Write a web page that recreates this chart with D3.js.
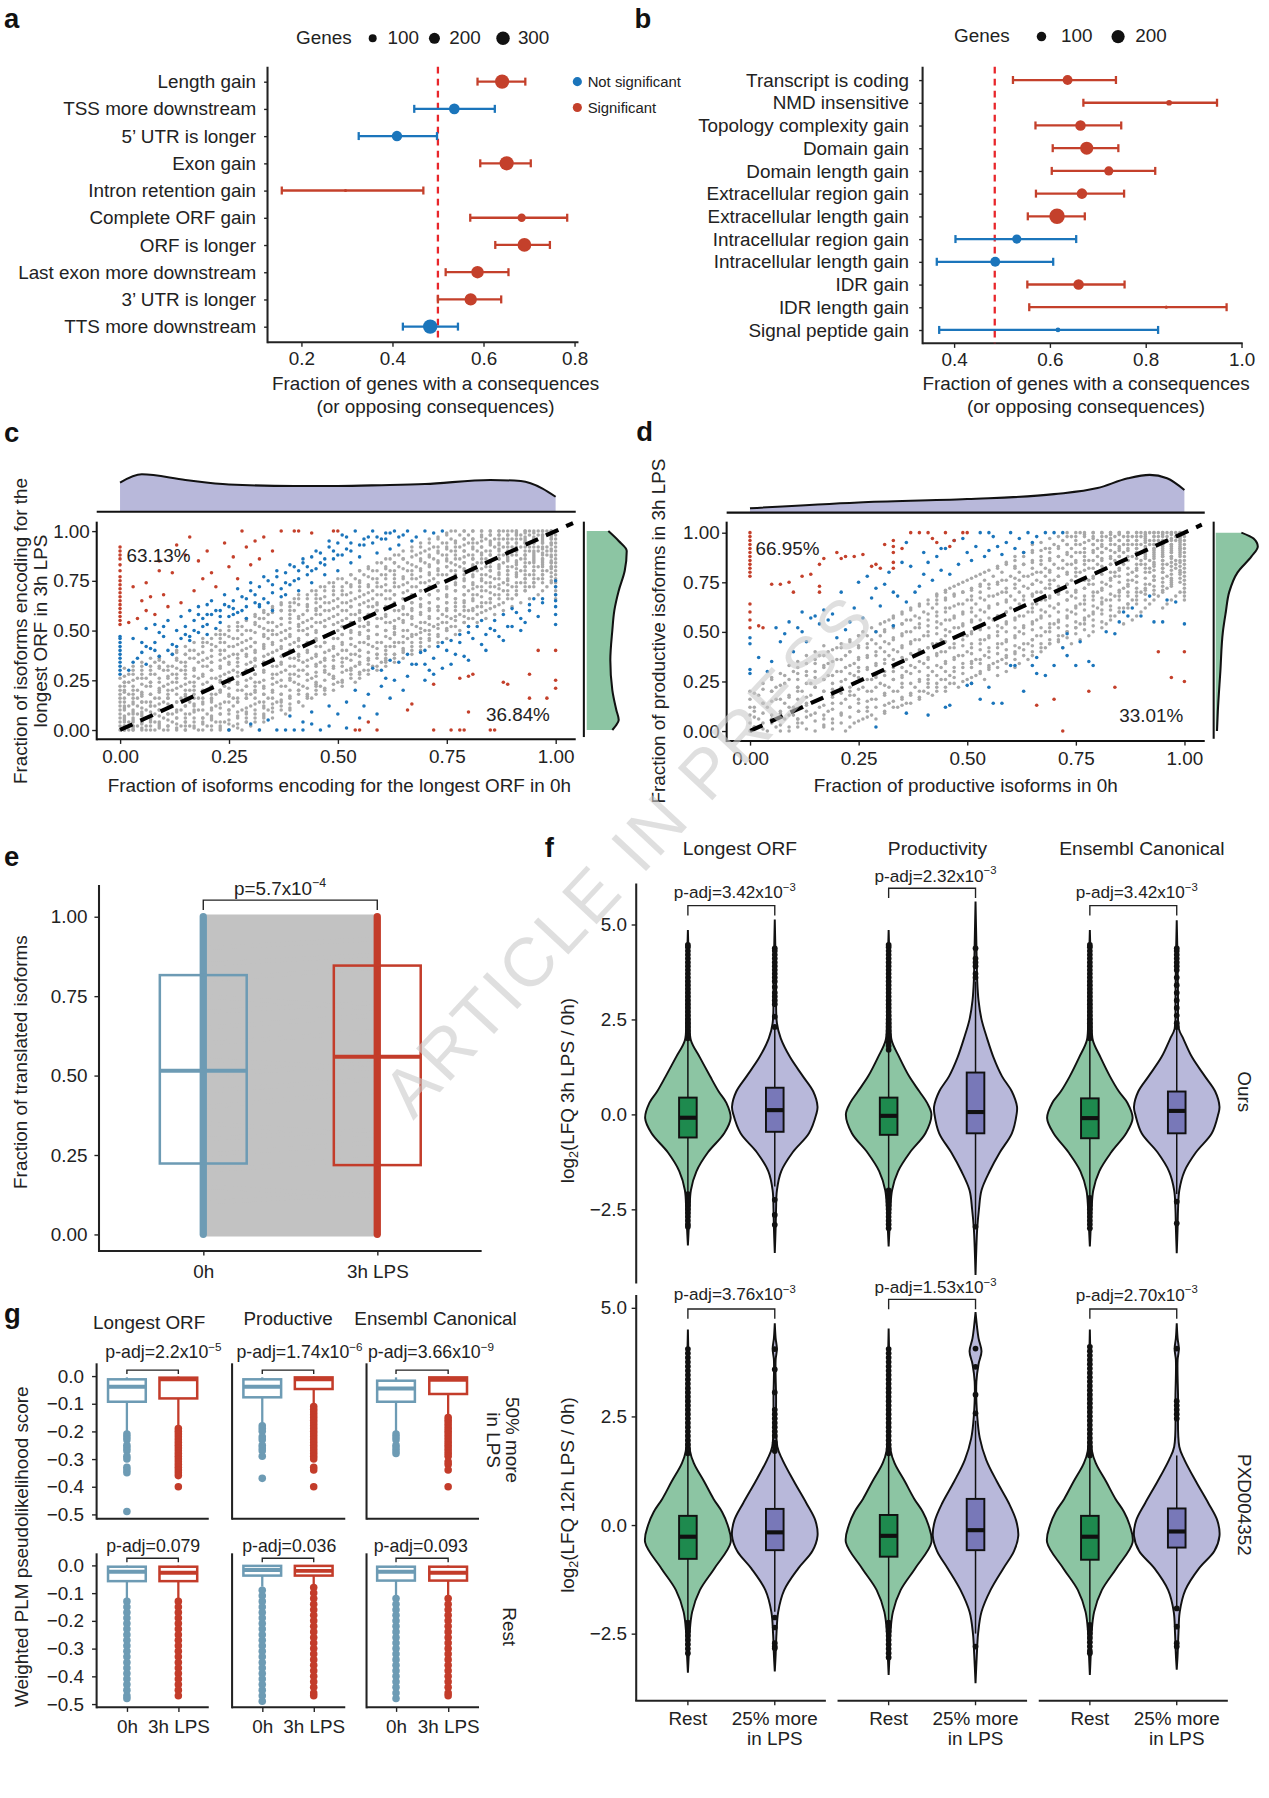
<!DOCTYPE html>
<html><head><meta charset="utf-8">
<script src="https://cdn.jsdelivr.net/npm/d3@7/dist/d3.min.js"></script>
<style>html,body{margin:0;padding:0;background:#fff}svg{display:block}</style>
</head><body>
<svg id="fig" width="1269" height="1798"></svg>
<script>
// ======================= DATA =======================
// ---- panel a ----
const aCats = ["Length gain","TSS more downstream","5\u2019 UTR is longer","Exon gain","Intron retention gain","Complete ORF gain","ORF is longer","Last exon more downstream","3\u2019 UTR is longer","TTS more downstream"];
const aFrac = [0.641,0.536,0.410,0.651,0.297,0.684,0.690,0.587,0.572,0.483];
const aLow  = [0.587,0.448,0.326,0.593,0.157,0.571,0.626,0.517,0.500,0.423];
const aHigh = [0.692,0.625,0.498,0.704,0.468,0.784,0.746,0.655,0.639,0.544];
const aGenes = [335,187,178,335,10,110,314,257,250,345];
const aSig = [1,0,0,1,1,1,1,1,1,0];
const aTicks = [0.2,0.4,0.6,0.8];
const aLegend = [100,200,300];
// ---- panel b ----
const bCats = ["Transcript is coding","NMD insensitive","Topology complexity gain","Domain gain","Domain length gain","Extracellular region gain","Extracellular length gain","Intracellular region gain","Intracellular length gain","IDR gain","IDR length gain","Signal peptide gain"];
const bFrac = [0.637,0.849,0.664,0.677,0.723,0.667,0.615,0.531,0.486,0.660,0.843,0.617];
const bLow  = [0.523,0.670,0.570,0.606,0.604,0.571,0.554,0.403,0.364,0.553,0.557,0.369];
const bHigh = [0.738,0.949,0.749,0.743,0.820,0.755,0.673,0.655,0.607,0.756,0.969,0.826];
const bGenes = [108,32,124,195,93,124,280,93,108,124,5,20];
const bSig = [1,1,1,1,1,1,1,0,0,1,1,0];
const bTicks = [0.4,0.6,0.8,1.0];
const bLegend = [100,200];
const sigLabels = ["Not significant","Significant"];
// ---- panel c (hundredths). rows "y: x x x", cols "x: y y y" ----
const cGrayRows = [
"0:0 1 2 3 5 6 8 10 13 15 18 21 25 28 32","2:0 1 3 4 6 9 11 14 16 20 23 26 30","4:0 2 3 5 7 8 12 15 17 22 24 29 33",
"6:0 1 3 6 7 10 13 15 19 21 27 31 35","8:0 2 4 5 8 11 12 16 20 23 29 33 38","10:0 1 3 6 9 10 14 18 21 25 28 34 39",
"12:0 2 4 7 8 12 15 17 22 26 30 33 37 42","14:0 1 5 6 10 13 16 19 24 27 32 36 41","16:0 3 4 8 11 14 18 21 26 29 34 39 44",
"18:0 2 5 7 11 15 17 22 25 30 33 37 43 47","20:0 1 4 9 12 16 19 23 28 31 35 41 45 49","22:0 3 6 10 14 17 21 24 29 33 38 42 46 51",
"24:1 2 7 9 12 16 20 23 27 32 36 40 45 50 54","26:0 4 6 11 13 18 22 25 30 35 39 44 49 55","28:2 5 8 12 15 19 24 28 31 36 40 43 48 53 57",
"30:3 7 10 14 17 21 26 29 33 38 42 47 52 56 59","32:5 9 12 15 20 23 27 31 36 40 45 49 54 58 61","34:8 10 14 18 21 25 30 33 37 42 46 51 55 60 63",
"36:9 13 16 20 24 27 31 35 40 44 47 52 57 61 65","38:12 15 18 23 26 29 34 38 41 45 50 54 59 63 67","40:13 16 21 24 28 31 36 39 43 48 52 55 61 65 69",
"42:15 19 22 26 30 33 37 41 46 49 54 58 62 67 71","44:17 20 24 28 31 35 40 43 47 51 56 60 64 69 73","46:19 23 26 30 34 38 41 45 50 53 57 62 66 71 75",
"48:22 24 28 33 36 39 43 48 51 55 59 63 68 73 77","50:23 27 30 34 38 42 45 50 53 57 61 66 70 75 78","52:25 28 32 36 41 44 47 51 56 59 63 68 72 76 80",
"54:27 31 34 39 42 46 50 53 57 62 65 70 74 79 82","56:29 32 37 41 44 48 52 55 60 64 67 71 76 80 84","58:31 34 39 42 46 50 54 57 61 66 69 74 78 82 86",
"60:33 37 40 45 48 52 55 59 64 67 71 75 80 84 88","62:35 39 43 46 50 53 58 61 65 69 73 77 82 86 90","64:37 40 45 48 52 56 59 63 67 71 75 79 84 88 92",
"66:40 43 46 50 54 58 62 65 69 73 77 81 85 90 94 100","68:41 45 49 52 56 60 63 67 71 75 79 82 86 91 96 100","70:44 47 51 55 58 62 66 69 73 77 80 84 88 93 97 100",
"72:46 49 53 57 60 64 68 71 75 79 82 86 90 94 98 100","74:48 52 55 59 63 66 70 73 77 81 84 88 92 95 99 100","76:50 54 58 61 65 68 72 76 79 83 86 89 93 96 100",
"78:53 56 60 63 67 71 74 77 81 84 87 91 94 97 100","80:55 58 62 66 69 73 76 79 82 85 89 92 95 98 100","82:57 61 64 68 71 75 78 81 84 87 90 93 96 99 100",
"84:60 63 66 70 73 76 79 82 85 88 91 94 97 99 100","86:62 65 69 72 75 78 81 84 87 89 92 95 97 100","88:64 68 71 74 77 80 83 85 88 90 93 95 98 100",
"90:67 70 73 76 79 82 84 87 89 91 94 96 98 100","92:69 72 75 78 81 83 86 88 90 92 94 96 98 100","94:71 74 77 80 82 85 87 89 91 93 95 97 99 100",
"96:73 76 79 81 84 86 88 90 92 93 95 97 99 100","98:75 78 80 83 85 87 89 91 92 94 96 97 99 100","100:76 79 81 83 85 87 88 90 91 93 94 96 97 98 99 100"];
const cGrayCols = [
"1:0 2 4 5 7 11 12 16 19 22 24 27 31","3:0 1 2 5 8 9 13 14 18 20 25 28 32","5:1 3 4 7 9 11 14 17 19 23 26 30 34",
"7:0 2 5 6 9 12 14 18 22 24 28 32 36","9:1 3 4 7 10 13 16 19 21 26 31 35 37","11:0 2 5 8 11 13 16 20 23 27 30 32",
"13:1 3 6 9 10 14 18 21 24 28 31 35 39","15:0 2 4 8 12 15 17 20 23 26 30 34 38","17:1 2 6 9 10 13 16 20 24 27 31 36 40",
"19:0 3 4 6 10 13 16 19 23 27 32 35 39 44","21:2 5 7 11 14 15 18 22 26 30 34 37 43 46","23:0 1 4 8 11 13 19 20 25 27 31 35 40 44 48",
"25:0 3 5 8 10 14 17 21 24 29 33 37 42 47 50","27:1 3 7 9 14 16 20 23 27 29 34 38 43 46 52","29:4 6 9 11 16 18 22 25 30 33 37 41 45 50 55",
"31:4 8 10 13 16 19 22 24 28 32 35 39 44 49 53 57","33:6 7 11 14 18 21 25 29 34 37 41 43 47 51 56 59","35:9 11 13 16 19 23 28 32 35 39 43 48 50 54 59 61",
"37:10 14 15 18 22 25 29 33 37 41 45 49 53 56 60 63","39:11 13 17 20 25 28 32 36 39 43 47 51 56 60 64","41:14 18 20 23 27 30 35 37 42 45 50 53 57 63 66",
"43:16 17 21 25 28 32 35 39 44 48 51 55 60 63 68","45:18 22 23 27 29 33 37 42 45 49 54 58 61 66 70","47:20 21 25 29 32 35 39 44 47 52 55 60 64 67 72",
"49:23 26 27 31 35 37 41 46 49 53 57 61 65 70 74","51:24 25 29 32 36 40 43 48 52 55 60 64 68 72 76","53:26 30 31 35 38 43 46 49 54 58 62 65 69 73 78",
"55:28 29 33 37 40 44 49 52 55 59 63 67 72 75 80","57:30 33 35 39 43 47 50 53 58 62 65 69 73 77 81","59:32 36 38 41 44 48 52 56 60 63 68 72 76 80 84",
"61:34 35 38 42 47 50 54 57 62 66 70 73 78 81 86","63:36 38 42 44 49 51 55 60 63 68 72 76 80 84 88","65:39 41 44 47 50 55 58 61 66 69 73 77 81 86 90",
"67:40 44 47 48 53 57 61 64 67 72 76 80 83 87 92","69:42 46 49 51 54 59 63 66 70 74 77 81 85 89 94","71:45 48 50 53 57 61 64 68 72 75 79 83 87 91 96",
"73:47 51 53 56 60 62 66 70 74 78 81 85 89 92 97","75:50 51 54 57 61 64 67 71 75 78 82 85 88 91 94 99","77:52 55 57 60 64 66 70 73 76 80 83 86 90 92 95 100",
"79:54 57 60 62 65 68 72 75 78 81 84 87 90 93 96 100","81:56 60 61 65 68 71 73 77 80 83 86 88 91 94 96 100","83:59 62 64 67 70 72 75 78 81 84 86 89 92 95 97 100",
"85:61 64 66 69 72 74 77 80 82 85 88 90 93 95 98 100","87:63 66 68 71 73 76 79 81 83 86 88 91 93 96 98 100","89:66 68 70 73 75 78 80 82 85 87 89 92 94 96 98 100",
"91:68 70 72 74 77 79 81 83 85 88 90 92 94 96 98 99 100","93:70 72 74 76 78 80 82 84 86 88 90 92 94 95 97 99 100","95:72 74 76 78 80 82 84 85 87 89 90 92 94 96 97 99 100",
"97:74 76 78 80 82 83 85 86 88 89 91 92 94 95 97 98 100","99:75 77 79 81 82 84 85 87 88 90 91 93 94 96 97 98 99 100"];
const cBlue = "0,28 0,30 0,32 0,34 0,36 0,38 0,40 0,42 0,44 0,46 0,47 2,30 3,34 4,36 5,39 6,33 7,41 8,44 9,37 10,47 11,40 12,43 13,50 14,46 15,52 16,45 17,55 18,49 19,56 20,53 21,58 22,51 23,60 24,63 25,57 26,65 27,59 28,67 29,62 30,70 31,64 32,72 33,66 34,75 35,69 36,77 37,71 38,79 39,73 40,82 41,76 42,84 43,78 44,87 45,81 46,89 47,83 48,92 49,86 50,94 51,88 52,97 53,90 54,100 56,93 58,100 60,96 62,91 63,100 65,98 67,95 70,100 72,99 74,100 3,46 5,44 6,51 8,53 9,49 11,55 12,38 14,57 16,60 18,62 20,48 21,65 23,54 24,68 26,61 27,71 29,56 30,74 32,63 33,77 35,60 36,80 38,68 39,83 41,70 42,86 44,74 45,90 47,78 48,95 50,80 51,98 53,84 55,87 57,97 59,89 61,99 64,93 66,100 68,97 15,48 17,50 19,52 20,58 22,60 23,57 25,62 26,58 28,60 29,66 31,68 32,62 34,64 35,73 37,67 38,74 40,75 41,80 43,82 44,80 46,84 47,86 49,90 50,88 52,91 53,94 55,93 56,96 58,94 59,97 61,96 62,99 64,97 6,42 8,40 10,52 13,42 16,47 18,58 20,63 25,0 32,0 36,0 38,0 40,0 42,0 46,0 30,3 34,5 39,7 42,4 44,9 48,12 50,8 52,14 55,6 57,18 60,22 62,16 63,25 66,27 67,33 68,33 70,33 71,30 72,36 75,40 76,45 78,44 80,49 82,52 84,48 86,55 88,58 90,61 92,56 94,63 95,66 97,66 100,53 100,58 100,65 100,72 100,75 58,31 61,26 64,34 69,39 73,42 77,38 81,46 85,51 89,52 91,59 93,54 96,57 54,20 56,12 59,8 65,20 48,2 44,3 52,1 70,25 74,31 79,37 83,43 87,47 60,30 62,35 66,38 70,40 74,44 78,48 80,52 83,55 86,50 90,52 94,60 97,64 100,62 100,68 72,28 76,33 80,35 84,40 88,45 92,50";
const cRed = "0,53 0,55 0,57 0,59 0,61 0,63 0,65 0,67 0,69 0,71 0,73 0,75 0,77 0,80 0,83 0,86 0,88 0,90 0,92 2,54 4,56 5,65 6,74 7,67 8,58 9,80 10,68 11,62 12,79 13,93 14,64 15,88 16,97 17,70 18,85 19,76 20,90 22,72 24,94 25,82 26,87 28,100 29,92 30,83 31,95 32,86 33,97 35,90 37,100 40,100 41,100 44,99 49,100 50,100 3,72 9,85 21,79 27,76 6,60 54,0 55,0 59,0 72,0 76,0 78,0 79,0 85,0 86,0 57,4 66,10 67,13 80,9 72,23 78,26 80,27 81,28 88,24 89,23 94,16 98,16 94,28 96,40 100,40 100,25 100,21";
const cTopDens = [[0,0.78],[0.05,1],[0.15,0.85],[0.25,0.73],[0.4,0.69],[0.5,0.69],[0.6,0.71],[0.7,0.74],[0.85,0.85],[0.92,0.82],[0.97,0.62],[1,0.4]];
const cRightDens = [[0,0.64],[0.02,0.72],[0.05,0.8],[0.1,0.74],[0.2,0.64],[0.35,0.59],[0.5,0.64],[0.6,0.69],[0.7,0.8],[0.8,0.95],[0.9,1],[0.95,0.8],[1,0.54]];
const cPct = ["63.13%","36.84%"];
// ---- panel d ----
const dGrayRows = [
"0:0 4 9 15 22","2:1 6 11 17","4:0 3 12 19 24","6:2 8 11 17 26","8:0 5 10 14 21 28","10:1 7 13 18 25 31",
"12:0 4 10 16 23 27 34","14:3 8 13 19 25 32 36","16:0 6 11 16 22 28 35 39","18:2 9 14 19 24 31 37 42",
"20:0 5 12 17 23 28 34 40 45","22:6 11 15 21 26 32 38 43 48","24:3 8 14 19 24 30 35 41 46 51","26:5 11 17 22 28 33 39 44 50 54",
"28:8 13 18 24 29 35 41 46 52 57","30:10 15 20 25 31 36 42 47 53 59","32:11 17 22 27 33 38 44 49 55 61","34:13 18 24 29 34 40 45 51 56 62",
"36:15 20 25 31 36 41 47 52 58 64","38:16 22 27 32 38 43 48 54 59 65","40:18 23 29 34 39 44 50 55 61 67","42:20 25 30 35 41 46 51 57 62 68 72",
"44:21 27 32 37 42 47 53 58 64 69 74","46:23 28 33 38 44 49 54 59 65 71 76","48:25 30 35 40 45 50 55 61 66 72 78","50:26 31 36 41 46 51 57 62 68 73 79",
"52:28 33 38 43 48 53 58 63 69 75 81","54:30 35 39 44 49 54 59 65 70 76 82 86","56:32 36 41 46 51 56 61 66 71 77 83 88","58:33 38 43 47 52 57 62 67 73 78 84 89",
"60:35 40 45 49 54 59 64 68 74 79 85 90","62:37 42 46 51 55 60 65 70 75 80 86 91 95","64:39 43 48 52 57 62 66 71 76 81 87 92 96",
"66:41 45 50 54 59 63 68 73 77 82 88 93 97 100","68:43 47 51 56 60 65 69 74 79 84 89 94 98 100","70:45 49 53 58 62 66 71 75 80 85 90 95 99 100",
"72:46 51 55 59 64 68 72 77 81 86 91 96 100","74:48 53 57 61 65 69 73 78 82 87 92 97 100","76:50 54 58 62 66 70 74 78 83 88 93 97 100",
"78:52 56 60 64 68 71 75 79 84 89 93 96 100","80:54 58 62 66 69 73 76 80 84 88 92 95 99 100","82:57 61 65 68 72 75 78 82 85 89 92 95 98 100",
"84:59 63 67 70 74 77 80 83 86 90 93 96 98 100","86:61 65 69 72 75 78 81 84 87 90 92 95 98 100","88:63 67 71 74 77 80 83 85 88 91 93 95 97 100",
"90:65 69 73 76 79 81 84 86 89 91 93 95 97 99 100","92:68 71 74 77 80 82 85 87 89 91 93 95 97 99 100","94:70 73 76 79 81 84 86 88 90 92 93 95 97 99 100",
"96:72 75 78 80 83 85 87 89 91 92 94 96 98 99 100","98:74 77 79 82 84 86 88 90 91 93 94 96 98 99 100","100:76 79 81 83 85 87 89 90 92 93 94 95 96 97 98 99 100"];
const dGrayCols = [
"1:2 7 12 19","3:1 9 14 21","5:4 6 15 20 27","7:0 3 9 16 23 29","9:2 8 12 17 26 33","11:4 6 11 20 22 29 35","13:1 7 13 17 24 30 38",
"15:5 9 15 22 27 34 40","17:3 8 13 20 26 33 38 43","19:1 6 11 17 21 28 35 41","21:4 9 14 19 25 30 36 42","23:2 7 12 18 22 29 33 40 45",
"25:5 10 16 21 27 32 37 43 48","27:7 10 15 20 26 31 37 42 48","29:6 12 16 22 27 33 38 44 50","31:9 13 19 23 28 34 40 45 51 55",
"33:12 15 20 26 30 36 41 47 53 57","35:13 17 22 27 32 37 43 49 54 59","37:14 19 24 29 33 39 45 50 56 61","39:17 20 25 30 35 41 46 52 57 63",
"41:19 22 26 32 37 42 48 53 59 64","43:20 24 28 33 39 44 49 55 60 66 69","45:22 26 30 35 40 45 51 56 62 67 71","47:24 27 32 37 42 47 52 57 63 69 73",
"49:25 29 34 38 43 48 53 59 64 70 75","51:27 32 35 39 44 49 55 60 66 71 77","53:29 34 36 41 46 51 56 61 67 73 79","55:31 33 37 42 47 52 57 63 68 74 81",
"57:32 35 39 44 48 53 58 64 69 75 83","59:34 37 41 45 50 55 60 65 70 76 85","61:36 39 43 47 52 57 61 66 72 77 83 88","63:38 41 44 49 53 58 63 68 73 78 84 90",
"65:40 43 46 51 55 60 64 69 74 79 85 91 94","67:42 44 48 52 57 61 66 70 75 80 86 91 95","69:44 46 50 54 58 63 67 72 76 81 87 92 97","71:45 48 52 55 60 64 69 73 78 82 88 93 98",
"73:47 50 53 57 61 66 70 74 79 84 89 94 98 100","75:49 52 55 59 63 67 71 75 80 85 90 94 98 100","77:51 54 57 61 64 68 72 76 81 86 90 95 99 100","79:53 56 59 63 66 70 74 77 82 86 91 94 97 100",
"81:55 59 61 65 67 71 75 79 83 87 90 93 96 98 100","83:58 61 63 66 69 73 77 80 84 87 91 94 97 99 100","85:60 62 66 68 71 75 78 81 85 88 91 93 96 99 100","87:62 64 68 70 73 76 79 82 86 88 91 94 96 98 100",
"89:64 66 70 72 75 78 81 84 87 89 92 94 96 98 100","91:66 69 71 74 77 80 82 84 87 89 91 93 95 97 99 100","93:69 71 73 76 78 81 83 85 87 89 91 92 94 96 98 100","95:71 73 75 77 80 82 84 86 88 89 91 93 94 96 98 99 100",
"97:73 75 77 79 81 83 85 87 88 90 91 93 94 96 97 99 100","99:75 77 79 81 83 85 86 88 89 91 92 93 95 96 97 98 99 100"];
const dBlue = "0,29 0,31 0,44 0,47 2,37 4,30 5,35 6,52 7,45 8,49 9,55 10,40 11,52 12,60 13,45 14,57 15,58 16,54 17,61 18,56 19,59 21,70 22,51 23,55 24,62 25,75 26,57 27,78 28,67 29,72 30,63 31,74 32,80 33,70 34,68 35,85 36,65 37,83 38,70 39,73 40,79 41,85 42,76 43,88 44,81 45,92 46,79 47,96 48,84 50,90 51,86 52,93 53,100 54,88 55,91 56,98 57,93 58,89 59,95 60,100 61,92 62,97 63,90 64,100 65,95 66,98 68,100 70,100 72,100 36,95 40,90 44,92 49,97 55,100 12,50 20,47 29,50 33,53 29,2 36,9 41,8 45,12 46,13 50,23 51,24 55,22 56,14 58,14 60,33 61,33 65,33 66,29 66,37 70,33 72,42 73,38 75,33 76,45 79,33 78,35 85,55 86,60 87,58 88,62 90,58 92,68 93,55 95,55 96,66 98,65 100,54 73,49 82,50 84,49 68,28 63,20 53,16";
const dRed = "0,52 0,56 0,60 0,64 0,78 0,80 0,82 0,84 0,86 0,88 0,90 0,92 0,94 0,96 0,98 0,100 2,53 3,52 5,74 7,74 9,75 10,70 12,78 14,79 16,73 16,70 16,84 17,87 20,90 21,87 22,88 24,88 26,89 28,83 29,84 30,82 31,94 33,96 33,85 33,82 33,90 33,93 35,92 37,100 39,100 41,100 42,97 45,100 49,100 50,100 47,96 43,95 46,93 72,0 66,13 70,16 78,20 84,22 94,40 97,27 100,40 100,25";
const dTopDens = [[0,0.115],[0.25,0.27],[0.5,0.36],[0.7,0.49],[0.8,0.65],[0.87,0.91],[0.92,1],[0.96,0.91],[1,0.6]];
const dRightDens = [[0,0.03],[0.1,0.05],[0.3,0.11],[0.5,0.17],[0.6,0.24],[0.7,0.32],[0.8,0.52],[0.88,0.85],[0.93,1],[0.97,0.9],[1,0.61]];
const dPct = ["66.95%","33.01%"];
const scatterTicks = [0,0.25,0.5,0.75,1];
// ---- panel e ----
const eConds = ["0h","3h LPS"];
const eBox = [[0.223,0.515,0.816],[0.218,0.559,0.846]]; // q1, median, q3
const ePairs = "0,0 1,1 2,2 3,3 4,4 5,5 6,6 7,7 8,8 9,9 10,10 11,11 12,12 13,13 14,14 15,15 16,16 17,17 18,18 19,19 20,20 21,21 22,22 23,23 24,24 25,25 26,26 27,27 28,28 29,29 30,30 31,31 32,32 33,33 34,34 35,35 36,36 37,37 38,38 39,39 40,40 41,41 42,42 43,43 44,44 45,45 46,46 47,47 48,48 49,49 50,50 51,51 52,52 53,53 54,54 55,55 56,56 57,57 58,58 59,59 60,60 61,61 62,62 63,63 64,64 65,65 66,66 67,67 68,68 69,69 70,70 71,71 72,72 73,73 74,74 75,75 76,76 77,77 78,78 79,79 80,80 81,81 82,82 83,83 84,84 85,85 86,86 87,87 88,88 89,89 90,90 91,91 92,92 93,93 94,94 95,95 96,96 97,97 98,98 99,99 100,100 10,13 20,24 30,33 40,45 50,54 60,64 70,73 80,84 15,12 35,31 55,52 75,71 90,93 25,29 45,49 65,69 85,88";
const eTicks = [0,0.25,0.5,0.75,1];
// ---- panel f ----
const fCols = ["Longest ORF","Productivity","Ensembl Canonical"];
const fGroups = ["Rest","25% more|in LPS"];
const fRowLabels = ["Ours","PXD004352"];
const fTicks = [-2.5,0,2.5,5];
const fPadj = [["3.42","3.76"],["2.32","1.53"],["3.42","2.70"]];
const fViolOurs = [
[[-3.45,0],[-3,0.02],[-2.5,0.04],[-2,0.07],[-1.5,0.2],[-1,0.47],[-0.5,0.85],[-0.1,1],[0.3,0.9],[0.6,0.72],[1,0.52],[1.5,0.28],[1.95,0.07],[2.5,0.04],[3.5,0.03],[4.85,0]],
[[-3.65,0],[-3,0.02],[-2.5,0.03],[-2,0.05],[-1.5,0.15],[-1,0.42],[-0.5,0.8],[0,0.97],[0.2,1],[0.6,0.9],[1,0.66],[1.5,0.36],[2,0.14],[2.4,0.05],[3.5,0.03],[5.13,0]],
[[-3.48,0],[-3,0.02],[-2.5,0.04],[-2,0.08],[-1.5,0.22],[-1,0.5],[-0.5,0.86],[0,1],[0.3,0.9],[0.6,0.72],[1,0.48],[1.5,0.25],[1.95,0.07],[2.5,0.04],[3.5,0.03],[4.85,0]],
[[-4.23,0],[-3.5,0.02],[-3,0.04],[-2.5,0.08],[-2,0.14],[-1.5,0.33],[-1,0.57],[-0.5,0.85],[0,0.96],[0.2,0.97],[0.6,0.85],[1,0.62],[1.5,0.42],[2,0.27],[2.5,0.14],[3,0.07],[3.5,0.04],[4.5,0.02],[5.6,0]],
[[-3.48,0],[-3,0.02],[-2.5,0.04],[-2,0.08],[-1.5,0.22],[-1,0.5],[-0.5,0.85],[-0.1,1],[0.3,0.88],[0.6,0.68],[1,0.47],[1.5,0.25],[1.95,0.07],[2.5,0.04],[3.5,0.03],[4.85,0]],
[[-3.66,0],[-3,0.02],[-2.5,0.03],[-2,0.06],[-1.5,0.18],[-1,0.45],[-0.5,0.82],[0,0.97],[0.2,1],[0.6,0.9],[1,0.66],[1.5,0.36],[2,0.15],[2.25,0.05],[3,0.03],[4,0.02],[5.11,0]]];
const fViolPxd = [
[[-3.4,0],[-3,0.02],[-2.5,0.04],[-2,0.1],[-1.5,0.28],[-1,0.62],[-0.4,1],[0,0.93],[0.3,0.8],[0.6,0.6],[1,0.38],[1.4,0.15],[1.7,0.05],[3,0.03],[4.5,0]],
[[-3.37,0],[-3,0.02],[-2.5,0.04],[-2,0.08],[-1.5,0.22],[-1,0.55],[-0.6,0.88],[-0.25,1],[0.1,0.95],[0.5,0.74],[1,0.45],[1.5,0.18],[1.8,0.06],[3,0.03],[3.8,0.02],[4.05,0.05],[4.3,0.02],[4.64,0]],
[[-3.45,0],[-3,0.02],[-2.5,0.04],[-2,0.1],[-1.5,0.28],[-1,0.62],[-0.4,1],[0,0.93],[0.3,0.8],[0.6,0.6],[1,0.38],[1.4,0.15],[1.7,0.05],[3,0.03],[4.52,0]],
[[-3.64,0],[-3,0.03],[-2.5,0.06],[-2,0.14],[-1.5,0.35],[-1,0.65],[-0.6,0.9],[-0.25,1],[0.1,0.95],[0.5,0.78],[1,0.5],[1.5,0.25],[2,0.1],[2.5,0.04],[3.3,0.02],[3.7,0.07],[4.0,0.14],[4.3,0.07],[4.9,0]],
[[-3.45,0],[-3,0.02],[-2.5,0.04],[-2,0.1],[-1.5,0.28],[-1,0.62],[-0.4,1],[0,0.93],[0.3,0.8],[0.6,0.6],[1,0.38],[1.4,0.15],[1.7,0.05],[3,0.03],[4.5,0]],
[[-3.33,0],[-3,0.02],[-2.5,0.04],[-2,0.07],[-1.5,0.2],[-1,0.52],[-0.6,0.88],[-0.25,1],[0.1,0.95],[0.5,0.74],[1,0.45],[1.5,0.18],[1.8,0.06],[3,0.03],[3.8,0.02],[4.05,0.05],[4.3,0.02],[4.64,0]]];
// box stats: q1, median, q3, lower whisker, upper whisker
const fBoxOurs = [[-0.61,-0.09,0.44,-2.1,2.0],[-0.46,0.11,0.70,-1.9,2.3],[-0.54,-0.04,0.44,-2.0,1.65],[-0.5,0.06,1.1,-2.9,3.5],[-0.63,-0.1,0.42,-2.15,2.0],[-0.5,0.09,0.6,-2.1,2.25]];
const fBoxPxd = [[-0.78,-0.27,0.21,-2.2,1.65],[-0.58,-0.17,0.37,-2.0,1.7],[-0.73,-0.25,0.23,-2.2,1.65],[-0.58,-0.12,0.6,-2.5,2.4],[-0.8,-0.27,0.21,-2.25,1.6],[-0.52,-0.15,0.38,-1.9,1.6]];
const fOutOurs = [
"2.0 2.1 2.2 2.3 2.4 2.5 2.6 2.7 2.8 2.9 3.0 3.1 3.2 3.3 3.4 3.5 3.6 3.7 3.8 3.9 4.0 4.1 4.2 4.3 4.4 4.46 -2.1 -2.2 -2.3 -2.4 -2.5 -2.6 -2.7 -2.8 -2.9 -2.96",
"2.3 2.57 2.9 3.0 3.1 3.2 3.35 3.5 3.6 3.7 3.8 3.9 4.0 4.1 4.2 4.3 4.37 -2.25 -2.65 -2.91",
"1.7 1.8 1.9 2.0 2.1 2.2 2.3 2.4 2.5 2.6 2.7 2.8 2.9 3.0 3.1 3.2 3.3 3.4 3.5 3.6 3.7 3.8 3.9 4.0 4.1 4.2 4.3 4.4 4.46 -2.0 -2.1 -2.2 -2.3 -2.4 -2.5 -2.6 -2.7 -2.8 -2.9 -3.0",
"3.6 3.7 3.9 4.0 4.1 4.37 -2.96",
"2.0 2.1 2.2 2.3 2.4 2.5 2.6 2.7 2.8 2.9 3.0 3.1 3.2 3.3 3.4 3.5 3.6 3.7 3.8 3.9 4.0 4.1 4.2 4.3 4.4 4.46 -2.2 -2.3 -2.4 -2.5 -2.6 -2.7 -2.8 -2.9 -3.0",
"2.3 2.4 2.6 2.8 3.0 3.2 3.4 3.6 3.8 3.9 4.0 4.1 4.2 4.3 4.37 -2.3 -2.87"];
const fOutPxd = [
"1.65 1.75 1.85 1.95 2.05 2.15 2.25 2.35 2.45 2.55 2.65 2.75 2.85 2.95 3.05 3.15 3.25 3.35 3.45 3.55 3.65 3.75 3.85 3.95 4.05 -2.25 -2.35 -2.45 -2.55 -2.65 -2.75 -2.85 -2.95",
"1.7 1.8 1.9 2.05 2.15 2.25 2.35 2.45 2.55 2.65 3.05 3.58 4.05 -2.13 -2.36 -2.72 -2.8 -2.84",
"1.65 1.75 1.85 1.95 2.05 2.15 2.25 2.35 2.45 2.55 2.65 2.75 2.85 2.95 3.05 3.15 3.25 3.35 3.45 3.55 3.65 3.75 3.85 3.95 4.05 -2.25 -2.35 -2.45 -2.55 -2.65 -2.75 -2.85 -2.95 -3.05",
"2.57 3.0 3.64 4.06 -2.8",
"1.6 1.7 1.8 1.9 2.0 2.1 2.2 2.3 2.4 2.5 2.6 2.7 2.8 2.9 3.0 3.1 3.2 3.3 3.4 3.5 3.6 3.7 3.8 3.9 4.0 4.1 -2.3 -2.4 -2.5 -2.6 -2.7 -2.8 -2.9 -2.95",
"2.45 2.55 2.65 2.75 2.85 4.06 -1.92 -2.34 -2.72 -2.8"];
// ---- panel g ----
const gCols = ["Longest ORF","Productive","Ensembl Canonical"];
const gConds = ["0h","3h LPS"];
const gRowLabels = [["50% more","in LPS"],["Rest"]];
const gTicks = [-0.5,-0.4,-0.3,-0.2,-0.1,0];
const gPadjTop = [["2.2","\u22125"],["1.74","\u22126"],["3.66","\u22129"]];
const gPadjBottom = ["0.079","0.036","0.093"];
// [q1, median, q3, lower whisker, upper whisker], order: LORF 0h, LORF 3h, Prod 0h, Prod 3h, Ens 0h, Ens 3h
const gBoxTop = [[-0.093,-0.039,-0.012,-0.20,-0.005],[-0.081,-0.012,-0.006,-0.19,-0.002],[-0.077,-0.039,-0.012,-0.171,-0.005],[-0.047,-0.012,-0.005,-0.11,-0.002],[-0.093,-0.045,-0.017,-0.20,-0.005],[-0.065,-0.014,-0.005,-0.147,-0.002]];
const gBoxBottom = [[-0.057,-0.023,-0.005,-0.125,-0.001],[-0.057,-0.027,-0.005,-0.125,-0.001],[-0.037,-0.017,-0.002,-0.077,0],[-0.037,-0.02,-0.002,-0.075,0],[-0.055,-0.023,-0.005,-0.119,-0.001],[-0.055,-0.027,-0.005,-0.119,-0.001]];
const gOutTop = [
"-21 -22 -23 -25 -26 -27 -29 -30 -33 -34 -35 -49",
"-19 -20 -21 -22 -23 -24 -25 -26 -27 -28 -29 -30 -31 -32 -33 -34 -35 -36 -40",
"-18 -19 -20 -22 -23 -25 -26 -27 -29 -37",
"-11 -12 -13 -14 -15 -16 -17 -18 -19 -20 -21 -22 -23 -24 -25 -26 -27 -28 -29 -30 -33 -34 -40",
"-21 -22 -23 -25 -26 -27 -28",
"-15 -16 -17 -18 -19 -20 -21 -22 -23 -24 -25 -26 -27 -28 -29 -31 -32 -34 -40"];
const gOutBottom = [
"-13 -15 -17 -19 -21 -23 -25 -27 -29 -31 -33 -35 -37 -39 -41 -43 -45 -47 -48",
"-13 -15 -17 -19 -21 -23 -25 -27 -29 -31 -33 -35 -37 -39 -41 -43 -45 -47",
"-9 -11 -13 -15 -17 -19 -21 -23 -25 -27 -29 -31 -33 -35 -37 -39 -41 -43 -45 -47 -49",
"-8 -10 -12 -14 -16 -18 -20 -22 -24 -26 -28 -30 -32 -34 -36 -38 -40 -42 -44 -46 -47",
"-12 -14 -16 -18 -20 -22 -24 -26 -28 -30 -32 -34 -36 -38 -40 -42 -44 -46 -48",
"-12 -14 -16 -18 -20 -22 -24 -26 -28 -30 -32 -34 -36 -38 -40 -42 -44 -46 -47"];
const watermark = "ARTICLE IN PRESS";

// ======================= STYLE =======================
const FONT = "'Liberation Sans', Arial, Helvetica, sans-serif";
const FS = 16.5, INK = "#222";
const RED = "#c4402b", BLUE = "#1b75bb", GRAY = "#a8a8a8";
const LAV = "#b8b8da", GREEN = "#8cc5a3", BOXGREEN = "#1e8a4e", BOXPURP = "#7878b8";
const EBLUE = "#6d9bb4", ERED = "#c33c2a";
const S = 1269 / 1110;

const svg = d3.select("#fig").attr("font-family", FONT);
const root = svg.append("g").attr("transform", `scale(${S})`);

function txt(g, x, y, s, o = {}) {
  const t = g.append("text").attr("x", x).attr("y", y).text(s)
    .attr("font-size", o.size || FS).attr("fill", o.fill || INK)
    .attr("text-anchor", o.anchor || "start");
  if (o.weight) t.attr("font-weight", o.weight);
  if (o.rotate != null) t.attr("transform", `rotate(${o.rotate},${x},${y})`);
  return t;
}
function ln(g, x1, y1, x2, y2, w = 1.5, c = INK, dash) {
  const l = g.append("line").attr("x1", x1).attr("y1", y1).attr("x2", x2).attr("y2", y2)
    .attr("stroke", c).attr("stroke-width", w);
  if (dash) l.attr("stroke-dasharray", dash);
  return l;
}
function axisG(parent, axis, tx, ty, size) {
  const g = parent.append("g").attr("transform", `translate(${tx},${ty})`).call(axis);
  g.attr("font-family", FONT).attr("font-size", size || FS);
  g.select(".domain").remove();
  g.selectAll(".tick line").attr("stroke", INK).attr("stroke-width", 1.2);
  g.selectAll(".tick text").attr("fill", INK);
  return g;
}
function supText(g, x, y, base, exp, size, anchor) {
  const t = g.append("text").attr("x", x).attr("y", y).attr("font-size", size)
    .attr("text-anchor", anchor || "middle").attr("fill", INK);
  t.append("tspan").text(base);
  t.append("tspan").attr("dy", -size * 0.42).attr("font-size", size * 0.66).text(exp);
  return t;
}
function bracket(g, x1, x2, y, drop) {
  g.append("path").attr("d", `M${x1},${y + drop}V${y}H${x2}V${y + drop}`)
    .attr("fill", "none").attr("stroke", INK).attr("stroke-width", 1.2);
}
const minus = s => s.replace("-", "\u2212");
const parseRows = rows => rows.flatMap(r => { const [y, xs] = r.split(":"); return xs.trim().split(/\s+/).map(x => [+x / 100, +y / 100]); });
const parseCols = cols => cols.flatMap(r => { const [x, ys] = r.split(":"); return ys.trim().split(/\s+/).map(y => [+x / 100, +y / 100]); });
const parsePairs = s => s.trim().split(/\s+/).map(p => { const [a, b] = p.split(","); return [+a / 100, +b / 100]; });
const parseNums = (s, k = 1) => s.trim().split(/\s+/).map(v => +v / k);

// panel letters
[["a",3.6,24.8],["b",555,24.8],["c",3.6,387],["d",556.5,386],["e",3.5,757.5],["f",476.5,749.4],["g",3.6,1157.6]]
  .forEach(([l, x, y]) => txt(root, x, y, l, { size: 24, weight: "bold", fill: "#111" }));

// ======================= FOREST (a, b) =======================
function drawForest(o) {
  const g = root.append("g");
  const x = d3.scaleLinear().domain(o.xDom).range(o.xRng);
  const y = d3.scalePoint().domain(o.cats).range(o.yRng);
  const area = d3.scaleLinear().domain(o.nDom).range([o.rRng[0] ** 2, o.rRng[1] ** 2]);
  const r = n => Math.sqrt(Math.max(0.5, area(n)));
  axisG(g, d3.axisBottom(x).tickValues(o.ticks).tickFormat(d3.format(".1f")).tickSize(4).tickPadding(4), 0, o.axY);
  axisG(g, d3.axisLeft(y).tickSize(3).tickPadding(o.pad), o.axX, 0);
  ln(g, o.axX, o.axTop, o.axX, o.axY + 0.8, 1.8);
  ln(g, o.axX, o.axY, o.axR, o.axY, 1.8);
  ln(g, x(o.ref), o.axTop, x(o.ref), o.axY, 2, "#e8262b", "6,4.5");
  o.cats.forEach((c, i) => {
    const col = o.sig[i] ? RED : BLUE, yy = y(c);
    ln(g, x(o.lo[i]), yy, x(o.hi[i]), yy, 2, col);
    ln(g, x(o.lo[i]), yy - 3.5, x(o.lo[i]), yy + 3.5, 2, col);
    ln(g, x(o.hi[i]), yy - 3.5, x(o.hi[i]), yy + 3.5, 2, col);
  });
  g.selectAll("circle.pt").data(o.cats).join("circle").attr("class", "pt")
    .attr("cx", (c, i) => x(o.frac[i])).attr("cy", c => y(c))
    .attr("r", (c, i) => r(o.genes[i])).attr("fill", (c, i) => o.sig[i] ? RED : BLUE);
  txt(g, o.titleX, 341, "Fraction of genes with a consequences", { anchor: "middle" });
  txt(g, o.titleX, 361, "(or opposing consequences)", { anchor: "middle" });
  txt(g, o.legX, o.legY, "Genes");
  o.legN.forEach((n, i) => {
    g.append("circle").attr("cx", o.legDot[i]).attr("cy", o.legY - 5).attr("r", r(n)).attr("fill", "#111");
    txt(g, o.legLab[i], o.legY, String(n));
  });
  return g;
}
const gA = drawForest({ cats: aCats, frac: aFrac, lo: aLow, hi: aHigh, genes: aGenes, sig: aSig, ticks: aTicks,
  xDom: [0.2, 0.8], xRng: [263.6, 502.5], yRng: [71.4, 285.7], nDom: [10, 345], rRng: [1.4, 6.3],
  axX: 234, axY: 299.4, axTop: 58.3, axR: 506, pad: 7, ref: 0.5, titleX: 381,
  legX: 259, legY: 38.5, legN: aLegend, legDot: [326, 380, 440], legLab: [339, 393, 453] });
[BLUE, RED].forEach((c, i) => {
  gA.append("circle").attr("cx", 505).attr("cy", 71.4 + i * 22.6).attr("r", 4).attr("fill", c);
  txt(gA, 514, 75.9 + i * 22.6, sigLabels[i], { size: 13 });
});
drawForest({ cats: bCats, frac: bFrac, lo: bLow, hi: bHigh, genes: bGenes, sig: bSig, ticks: bTicks,
  xDom: [0.4, 1.0], xRng: [834.5, 1085.9], yRng: [70, 288.6], nDom: [5, 280], rRng: [1.4, 6.8],
  axX: 807, axY: 300.3, axTop: 58.3, axR: 1087, pad: 9, ref: 0.485, titleX: 950,
  legX: 834.5, legY: 37, legN: bLegend, legDot: [911, 978], legLab: [928, 993] });

// ======================= SCATTER (c, d) =======================
function drawScatter(o) {
  const g = root.append("g");
  const x = d3.scaleLinear().domain([0, 1]).range(o.xR);
  const y = d3.scaleLinear().domain([0, 1]).range(o.yR);
  const th = d3.scaleLinear().domain([0, 1]).range([0, o.topMax]);
  const tArea = d3.area().curve(d3.curveMonotoneX).x(d => x(d[0])).y0(o.topBase).y1(d => o.topBase - th(d[1]));
  g.append("path").datum(o.topDens).attr("d", tArea).attr("fill", LAV);
  g.append("path").datum(o.topDens).attr("d", tArea.lineY1()).attr("fill", "none").attr("stroke", "#111").attr("stroke-width", 1.8);
  ln(g, o.axL, o.topBase, o.axR, o.topBase, 1.8, "#111");
  const rw = d3.scaleLinear().domain([0, 1]).range([0, o.rightMax]);
  const rd = o.rightDens.slice().reverse();
  const rArea = d3.area().curve(d3.curveMonotoneY).y(d => y(d[0])).x0(o.rightBase).x1(d => o.rightBase + rw(d[1]));
  g.append("path").datum(rd).attr("d", rArea).attr("fill", GREEN);
  g.append("path").datum(rd).attr("d", rArea.lineX1()).attr("fill", "none").attr("stroke", "#111").attr("stroke-width", 1.8);
  ln(g, o.rightLine, o.axTop, o.rightLine, o.axBot - 2, 1.8, "#111");
  axisG(g, d3.axisBottom(x).tickValues(scatterTicks).tickFormat(d3.format(".2f")).tickSize(4).tickPadding(5), 0, o.axBot);
  axisG(g, d3.axisLeft(y).tickValues(scatterTicks).tickFormat(d3.format(".2f")).tickSize(4).tickPadding(2), o.axL, 0);
  ln(g, o.axL, o.axTop, o.axL, o.axBot + 0.9, 1.8, "#111");
  ln(g, o.axL, o.axBot, o.axR, o.axBot, 1.8, "#111");
  const layer = (pts, col) => g.append("g").selectAll("circle").data(pts).join("circle")
    .attr("cx", d => x(d[0])).attr("cy", d => y(d[1])).attr("r", 1.55).attr("fill", col);
  layer(parseRows(o.gray).concat(parseCols(o.grayCols)), GRAY);
  layer(parsePairs(o.blue), BLUE);
  layer(parsePairs(o.red), RED);
  ln(g, x(0), y(0), x(1.04), y(1.04), 3.6, "#000", "12,7.5");
  txt(g, o.pct1[0], o.pct1[1], o.pct[0]);
  txt(g, o.pct2[0], o.pct2[1], o.pct[1], { anchor: "end" });
  txt(g, o.xTitleX, 692.5, o.xTitle, { anchor: "middle" });
  o.yTitle.forEach((t, i) => txt(g, o.yTitleX[i], 552, t, { anchor: "middle", rotate: -90 }));
}
drawScatter({ xR: [105, 486], yR: [638.5, 464.5], topBase: 447.6, topMax: 32.7, topDens: cTopDens,
  rightBase: 513.2, rightMax: 35, rightDens: cRightDens, rightLine: 510.7,
  axL: 84.6, axR: 503.6, axTop: 456.3, axBot: 646.7,
  gray: cGrayRows, grayCols: cGrayCols, blue: cBlue, red: cRed, pct: cPct, pct1: [110.7, 491.3], pct2: [481, 631],
  xTitleX: 296.8, xTitle: "Fraction of isoforms encoding for the longest ORF in 0h",
  yTitle: ["Fraction of isoforms encoding for the", "longest ORF in 3h LPS"], yTitleX: [24, 41.5] });
drawScatter({ xR: [656, 1036], yR: [639.4, 465.9], topBase: 448.4, topMax: 33, topDens: dTopDens,
  rightBase: 1063.4, rightMax: 36.8, rightDens: dRightDens, rightLine: 1061.6,
  axL: 635.6, axR: 1053.8, axTop: 456.3, axBot: 648.2,
  gray: dGrayRows, grayCols: dGrayCols, blue: dBlue, red: dRed, pct: dPct, pct1: [660.9, 485.5], pct2: [1035, 631.3],
  xTitleX: 844.7, xTitle: "Fraction of productive isoforms in 0h",
  yTitle: ["Fraction of productive isoforms in 3h LPS"], yTitleX: [582] });

// ======================= PANEL e =======================
(function () {
  const g = root.append("g");
  const x = d3.scalePoint().domain(eConds).range([177.8, 330]);
  const y = d3.scaleLinear().domain([0, 1]).range([1079.7, 801.8]);
  g.append("g").selectAll("line").data(parsePairs(ePairs)).join("line")
    .attr("x1", x(eConds[0])).attr("x2", x(eConds[1]))
    .attr("y1", d => y(d[0])).attr("y2", d => y(d[1]))
    .attr("stroke", "#c2c2c2").attr("stroke-width", 3.6);
  const cols = [EBLUE, ERED];
  eConds.forEach((c, i) => {
    ln(g, x(c), y(0), x(c), y(1), 6.4, cols[i]).attr("stroke-linecap", "round");
  });
  eConds.forEach((c, i) => {
    const [q1, md, q3] = eBox[i], cx = x(c), hw = 38;
    g.append("rect").attr("x", cx - hw).attr("y", y(q3)).attr("width", 2 * hw).attr("height", y(q1) - y(q3))
      .attr("fill", "none").attr("stroke", cols[i]).attr("stroke-width", 2.2);
    ln(g, cx - hw, y(md), cx + hw, y(md), 3.6, cols[i]);
  });
  axisG(g, d3.axisLeft(y).tickValues(eTicks).tickFormat(d3.format(".2f")).tickSize(4).tickPadding(6), 86.6, 0);
  axisG(g, d3.axisBottom(x).tickSize(4).tickPadding(8), 0, 1094.3);
  ln(g, 86.6, 774.2, 86.6, 1095.2, 1.8);
  ln(g, 86.6, 1094.3, 421.3, 1094.3, 1.8);
  bracket(g, x(eConds[0]), x(eConds[1]), 787.3, 8.7);
  supText(g, 245, 783, "p=5.7x10", "\u22124", 16.5);
  txt(g, 23.3, 929, "Fraction of translated isoforms", { anchor: "middle", rotate: -90 });
})();

// ======================= PANEL f =======================
(function () {
  const g = root.append("g");
  const centers = [601.7, 677.7, 777.3, 853.3, 953.3, 1029.3];
  const W = 37.4, BW = 7.7;
  const rows = [
    { y: d3.scaleLinear().domain([0, 5]).range([974.7, 808.6]), viol: fViolOurs, box: fBoxOurs, out: fOutOurs,
      axTop: 772.7, axBot: 1122.6, pText: [785.8, 771.2, 785.8], pBr: [792.2, 777, 792.2] },
    { y: d3.scaleLinear().domain([0, 5]).range([1333.9, 1143.9]), viol: fViolPxd, box: fBoxPxd, out: fOutPxd,
      axTop: 1132.8, axBot: 1487.6, pText: [1137.1, 1131.3, 1137.7], pBr: [1145, 1136.6, 1145] }];
  const fills = [GREEN, LAV], bfills = [BOXGREEN, BOXPURP];
  rows.forEach((R, ri) => {
    const ys = R.y;
    R.viol.forEach((shape, k) => {
      const cx = centers[k], grp = k % 2;
      const area = d3.area().curve(d3.curveCatmullRom.alpha(0.5))
        .y(d => ys(d[0])).x0(d => cx - d[1] * W).x1(d => cx + d[1] * W);
      g.append("path").datum(shape).attr("d", area).attr("fill", fills[grp]).attr("stroke", "#111").attr("stroke-width", 1.7);
      const [q1, md, q3, wl, wh] = R.box[k];
      ln(g, cx, ys(q3), cx, ys(wh), 1.3, "#111");
      ln(g, cx, ys(q1), cx, ys(wl), 1.3, "#111");
      g.append("g").selectAll("circle").data(parseNums(R.out[k])).join("circle")
        .attr("cx", cx).attr("cy", d => ys(d)).attr("r", 2.5).attr("fill", "#111");
      g.append("rect").attr("x", cx - BW).attr("y", ys(q3)).attr("width", 2 * BW).attr("height", ys(q1) - ys(q3))
        .attr("fill", bfills[grp]).attr("stroke", "#111").attr("stroke-width", 1.7);
      ln(g, cx - BW, ys(md), cx + BW, ys(md), 3.6, "#111");
    });
    axisG(g, d3.axisLeft(ys).tickValues(fTicks).tickFormat(d => minus(d3.format(".1f")(d))).tickSize(4).tickPadding(4), 556.5, 0);
    ln(g, 556.5, R.axTop, 556.5, R.axBot, 1.8);
    fCols.forEach((c, j) => {
      const x1 = centers[2 * j], x2 = centers[2 * j + 1];
      bracket(g, x1, x2, R.pBr[j], 8.5);
      supText(g, (x1 + x2) / 2 + 3, R.pText[j], "p-adj=" + fPadj[j][ri] + "x10", "\u22123", 15);
    });
    txt(g, 1082.5, ri === 0 ? 954.9 : 1316.4, fRowLabels[ri], { anchor: "middle", rotate: 90 });
  });
  const segs = [[556.5, 722.4], [732.6, 898.4], [908.6, 1074]];
  segs.forEach((s, j) => {
    ln(g, s[0] - (j === 0 ? 0.9 : 0), 1487.6, s[1], 1487.6, 1.8);
    [0, 1].forEach(k => {
      const cx = centers[2 * j + k];
      ln(g, cx, 1487.6, cx, 1491.6, 1.2);
      const lines = fGroups[k].split("|");
      lines.forEach((t, li) => txt(g, cx, 1509 + li * 17.5, t, { anchor: "middle" }));
    });
  });
  fCols.forEach((c, j) => txt(g, [647.2, 820, 998.8][j], 747.9, c, { anchor: "middle", size: 16.8 }));
  [[954, "(LFQ 3h LPS / 0h)"], [1307.7, "(LFQ 12h LPS / 0h)"]].forEach(([cy, rest]) => {
    const t = g.append("text").attr("transform", `translate(502,${cy}) rotate(-90)`).attr("text-anchor", "middle")
      .attr("font-size", FS).attr("fill", INK);
    t.append("tspan").text("log");
    t.append("tspan").attr("dy", 4).attr("font-size", 11).text("2");
    t.append("tspan").attr("dy", -4).text(rest);
  });
})();

// ======================= PANEL g =======================
(function () {
  const g = root.append("g");
  const facets = [[84.5, 182.6, 111, 156], [203, 302, 229.4, 274.4], [320.6, 419, 346.4, 392]];
  const rows = [
    { y: d3.scaleLinear().domain([-0.5, 0]).range([1324.6, 1203.6]), box: gBoxTop, out: gOutTop, axTop: 1192.5, axBot: 1328.4, br: 1198.4, pt: 1188.2 },
    { y: d3.scaleLinear().domain([-0.5, 0]).range([1490.5, 1369.2]), box: gBoxBottom, out: gOutBottom, axTop: 1358.7, axBot: 1493.4, br: 1363, pt: 1357.3 }];
  const cols = [EBLUE, ERED];
  rows.forEach((R, ri) => {
    facets.forEach((f, j) => {
      const xs = d3.scalePoint().domain(gConds).range([f[2], f[3]]);
      gConds.forEach((c, k) => {
        const idx = 2 * j + k, cx = xs(c), hw = 16.5, col = cols[k];
        const [q1, md, q3, wl, wh] = R.box[idx];
        ln(g, cx, R.y(q3), cx, R.y(wh), 2, col);
        ln(g, cx, R.y(q1), cx, R.y(wl), 2, col);
        g.append("g").selectAll("circle").data(parseNums(R.out[idx], 100)).join("circle")
          .attr("cx", cx).attr("cy", d => R.y(d)).attr("r", 3.3).attr("fill", col);
        g.append("rect").attr("x", cx - hw).attr("y", R.y(q3)).attr("width", 2 * hw).attr("height", R.y(q1) - R.y(q3))
          .attr("fill", "#fff").attr("stroke", col).attr("stroke-width", 2.2);
        ln(g, cx - hw, R.y(md), cx + hw, R.y(md), 3.4, col);
      });
      ln(g, f[0], R.axTop, f[0], R.axBot + 0.9, 1.8);
      ln(g, f[0], R.axBot, f[1], R.axBot, 1.8);
      if (j === 0) axisG(g, d3.axisLeft(R.y).tickValues(gTicks).tickFormat(d => minus(d3.format(".1f")(d))).tickSize(4).tickPadding(7), f[0], 0);
      if (ri === 1) axisG(g, d3.axisBottom(xs).tickSize(4).tickPadding(6.5), 0, R.axBot);
      bracket(g, f[2], f[3], R.br, 3.5);
      if (ri === 0) supText(g, [143, 262, 377][j], R.pt, "p-adj=" + gPadjTop[j][0] + "x10", gPadjTop[j][1], 15.5);
      else txt(g, [134, 253, 368][j], R.pt, "p-adj=" + gPadjBottom[j], { anchor: "middle", size: 15.5 });
    });
  });
  gCols.forEach((c, j) => txt(g, [130.5, 252, 381][j], [1162.8, 1159, 1159][j], c, { anchor: "middle" }));
  txt(g, 442.7, 1259.6, gRowLabels[0][0], { anchor: "middle", rotate: 90 });
  txt(g, 426.2, 1259.6, gRowLabels[0][1], { anchor: "middle", rotate: 90 });
  txt(g, 439.7, 1422.9, gRowLabels[1][0], { anchor: "middle", rotate: 90 });
  txt(g, 24.4, 1352.9, "Weighted PLM pseudolikelihood score", { anchor: "middle", rotate: -90 });
})();

// ======================= WATERMARK =======================
root.append("text").attr("transform", "translate(550,748) rotate(-47)")
  .attr("text-anchor", "middle").attr("dominant-baseline", "central")
  .attr("font-size", 60).attr("letter-spacing", 3).attr("fill", "#c9c9c9").attr("fill-opacity", 0.6)
  .text(watermark);
</script>
</body></html>
